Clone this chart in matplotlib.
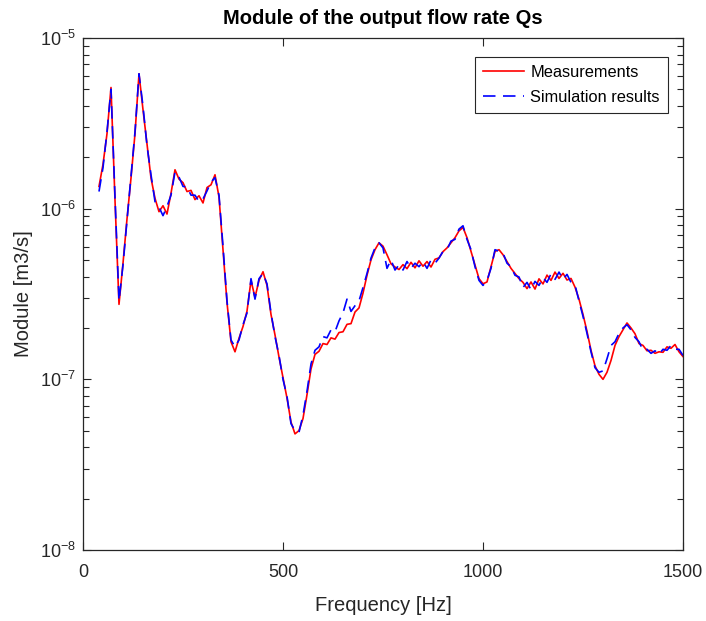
import numpy as np
import matplotlib
matplotlib.use("Agg")
import matplotlib.pyplot as plt
from matplotlib.ticker import LogLocator, FixedLocator, NullLocator

# frequency axis [Hz]
freq = [40, 50, 60, 70, 80, 90, 100, 110, 120, 130, 140, 150, 160, 170, 180, 190,
        200, 210, 220, 230, 240, 250, 260, 270, 280, 290, 300, 310, 320, 330, 340,
        350, 360, 370, 380, 390, 400, 410, 420, 430, 440, 450, 460, 470, 480, 490,
        500, 510, 520, 530, 540, 550, 560, 570, 580, 590, 600, 610, 620, 630, 640,
        650, 660, 670, 680, 690, 700, 710, 720, 730, 740, 750, 760, 770, 780, 790,
        800, 810, 820, 830, 840, 850, 860, 870, 880, 890, 900, 910, 920, 930, 940,
        950, 960, 970, 980, 990, 1000, 1010, 1020, 1030, 1040, 1050, 1060, 1070,
        1080, 1090, 1100, 1110, 1120, 1130, 1140, 1150, 1160, 1170, 1180, 1190,
        1200, 1210, 1220, 1230, 1240, 1250, 1260, 1270, 1280, 1290, 1300, 1310,
        1320, 1330, 1340, 1350, 1360, 1370, 1380, 1390, 1400, 1410, 1420, 1430,
        1440, 1450, 1460, 1470, 1480, 1490, 1500]

# module of Qs, in 1e-7 m3/s
measured = [13.5, 18.2, 27.5, 51.3, 11.2, 2.75, 4.79, 8.71, 15.1, 27.5, 61.7, 38.0,
            24.0, 15.1, 11.5, 9.6, 10.4, 9.3, 12.3, 16.9, 14.9, 14.2, 12.6, 12.8,
            11.3, 11.9, 10.8, 13.3, 13.8, 15.8, 11.7, 5.75, 2.82, 1.66, 1.45, 1.74,
            2.04, 2.51, 3.80, 3.02, 3.80, 4.27, 3.55, 2.40, 1.82, 1.35, 1.02, 0.776,
            0.562, 0.479, 0.501, 0.589, 0.813, 1.15, 1.40, 1.46, 1.62, 1.60, 1.75,
            1.72, 1.88, 1.90, 2.10, 2.12, 2.48, 2.62, 3.20, 4.07, 5.01, 5.75, 6.31,
            6.03, 5.37, 4.75, 4.55, 4.40, 4.70, 4.45, 4.85, 4.50, 4.95, 4.60, 4.90,
            4.55, 5.05, 5.15, 5.60, 5.89, 6.31, 6.76, 7.41, 7.76, 6.76, 5.62, 4.68,
            3.89, 3.63, 3.72, 4.57, 5.62, 5.75, 5.37, 4.90, 4.47, 4.17, 3.89, 3.70,
            3.40, 3.72, 3.38, 3.88, 3.62, 4.08, 3.80, 4.25, 3.90, 4.18, 3.82, 3.90,
            3.47, 2.95, 2.40, 1.91, 1.48, 1.20, 1.07, 1.00, 1.10, 1.29, 1.58, 1.78,
            1.95, 2.14, 2.00, 1.85, 1.62, 1.58, 1.47, 1.48, 1.42, 1.45, 1.44, 1.55,
            1.52, 1.60, 1.45, 1.36]

simulated = [12.6, 17.4, 28.2, 50.1, 11.7, 2.88, 4.68, 8.51, 15.5, 28.2, 61.7, 39.8,
             23.4, 15.8, 11.0, 10.2, 9.1, 10.3, 12.0, 16.4, 15.3, 13.5, 13.4, 12.0,
             12.0, 11.0, 11.4, 12.7, 14.3, 15.2, 12.0, 6.03, 2.88, 1.70, 1.55, 1.70,
             2.09, 2.45, 3.89, 2.95, 3.89, 4.17, 3.63, 2.45, 1.78, 1.38, 1.00, 0.794,
             0.550, 0.501, 0.490, 0.617, 0.851, 1.23, 1.48, 1.55, 1.78, 1.75, 1.95,
             1.90, 2.20, 2.45, 2.95, 2.50, 2.70, 2.88, 3.45, 4.17, 5.13, 5.89, 6.31,
             5.89, 4.47, 5.01, 4.37, 4.68, 4.37, 4.90, 4.47, 4.79, 4.57, 4.90, 4.47,
             5.01, 4.79, 5.13, 5.62, 5.75, 6.46, 6.61, 7.59, 7.94, 6.61, 5.75, 4.57,
             3.80, 3.55, 3.80, 4.47, 5.75, 5.62, 5.50, 4.79, 4.57, 4.07, 3.98, 3.45,
             3.70, 3.35, 3.75, 3.55, 3.95, 3.70, 4.15, 3.85, 4.25, 3.85, 4.12, 3.70,
             3.58, 2.88, 2.34, 1.86, 1.45, 1.17, 1.10, 1.12, 1.32, 1.58, 1.66, 1.86,
             2.00, 2.09, 1.95, 1.76, 1.66, 1.48, 1.50, 1.42, 1.47, 1.40, 1.50, 1.48,
             1.58, 1.50, 1.50, 1.38]


def main():
  plt.rcParams['font.family'] = ['Liberation Sans', 'DejaVu Sans']
  plt.rcParams['mathtext.fontset'] = 'custom'
  plt.rcParams['mathtext.rm'] = 'Liberation Sans'
  plt.rcParams['mathtext.it'] = 'Liberation Sans'

  f = np.array(freq)
  meas = np.array(measured) * 1e-7
  sim = np.array(simulated) * 1e-7

  fig = plt.figure(figsize=(7.06, 6.21), dpi=100)
  ax = fig.add_axes([83/706, 1 - 550/621, 600/706, 512/621])

  ax.plot(f, meas, color=(1, 0, 0), lw=1.2, label='Measurements')
  ax.plot(f, sim, color=(0, 0, 1), lw=1.2, dashes=(7.5, 4.5), label='Simulation results')

  ax.set_yscale('log')
  ax.set_xlim(0, 1500)
  ax.set_ylim(1e-8, 1e-5)
  ax.xaxis.set_major_locator(FixedLocator([0, 500, 1000, 1500]))
  ax.xaxis.set_minor_locator(NullLocator())
  ax.yaxis.set_major_locator(LogLocator(base=10, numticks=10))
  ax.yaxis.set_minor_locator(LogLocator(base=10, subs=np.arange(2, 10), numticks=20))

  ax.tick_params(which='both', direction='in', top=True, right=True,
                 colors='#262626', labelsize=13, width=0.8)
  ax.tick_params(which='major', length=6)
  ax.tick_params(which='minor', length=4)
  ax.tick_params(axis='x', pad=10)
  ax.tick_params(axis='y', pad=5)
  for s in ax.spines.values():
    s.set_color('#262626')
    s.set_linewidth(0.9)

  ax.set_xlabel('Frequency [Hz]', fontsize=14.5, color='#262626', labelpad=11)
  ax.set_ylabel('Module [m3/s]', fontsize=14.5, color='#262626', labelpad=5)
  ax.set_title('Module of the output flow rate Qs', fontsize=14.5, fontweight='bold', pad=10)

  leg = ax.legend(loc='upper right', bbox_to_anchor=(0.975, 0.963), fontsize=11.8,
                  fancybox=False, framealpha=1, edgecolor='#262626',
                  handlelength=2.5, handletextpad=0.4, labelspacing=0.6,
                  borderpad=0.5, borderaxespad=0)
  leg.get_frame().set_linewidth(0.8)

  fig.savefig('out.png', dpi=100)

if __name__=="__main__":
  main()
